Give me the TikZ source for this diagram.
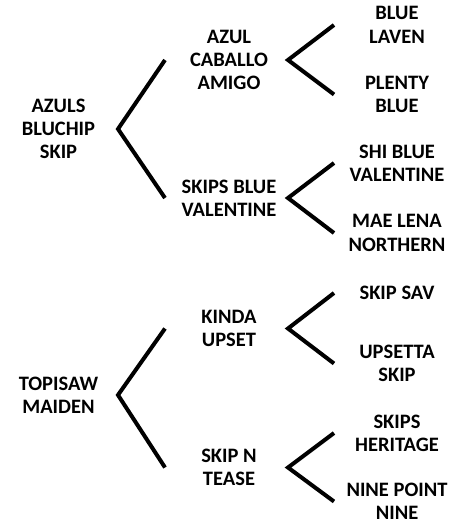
\documentclass[tikz,border=0pt]{standalone}
\usepackage{fontspec}
\setmainfont{Carlito}
\usetikzlibrary{calc}
\begin{document}
\begin{tikzpicture}[x=1pt,y=-1pt,
  lbl/.style={align=center,inner sep=0pt,font=\bfseries\fontsize{20.5}{23.3}\selectfont},
  br/.style={line width=4pt,black}]
\useasboundingbox (0,0) rectangle (456,525);
% roots
\node[lbl] (r1) at (58.5,129) {AZULS\\BLUCHIP\\SKIP};
\node[lbl] (r2) at (58.5,395) {TOPISAW\\MAIDEN};
% middle
\node[lbl] (m1) at (229,60) {AZUL\\CABALLO\\AMIGO};
\node[lbl] (m2) at (229,198) {SKIPS BLUE\\VALENTINE};
\node[lbl] (m3) at (229,328.5) {KINDA\\UPSET};
\node[lbl] (m4) at (229,467.5) {SKIP N\\TEASE};
% leaves
\node[lbl] (l1) at (397,25) {BLUE\\LAVEN};
\node[lbl] (l2) at (397,94.5) {PLENTY\\BLUE};
\node[lbl] (l3) at (397,163) {SHI BLUE\\VALENTINE};
\node[lbl] (l4) at (397,233) {MAE LENA\\NORTHERN};
\node[lbl] (l5) at (397,293) {SKIP SAV};
\node[lbl] (l6) at (397,363.5) {UPSETTA\\SKIP};
\node[lbl] (l7) at (397,433) {SKIPS\\HERITAGE};
\node[lbl] (l8) at (397,501.5) {NINE POINT\\NINE};
% brackets
\draw[br] ($(m1)+(-64,0)$) -- ($(r1)+(59.5,0)$) -- ($(m2)+(-64,0)$);
\draw[br] ($(m3)+(-64,0)$) -- ($(r2)+(59.5,0)$) -- ($(m4)+(-64,0)$);
\draw[br] ($(l1)+(-63,0)$) -- ($(m1)+(59,0)$) -- ($(l2)+(-63,0)$);
\draw[br] ($(l3)+(-63,0)$) -- ($(m2)+(59,0)$) -- ($(l4)+(-63,0)$);
\draw[br] ($(l5)+(-63,0)$) -- ($(m3)+(59,0)$) -- ($(l6)+(-63,0)$);
\draw[br] ($(l7)+(-63,0)$) -- ($(m4)+(59,0)$) -- ($(l8)+(-63,0)$);
\end{tikzpicture}
\end{document}
